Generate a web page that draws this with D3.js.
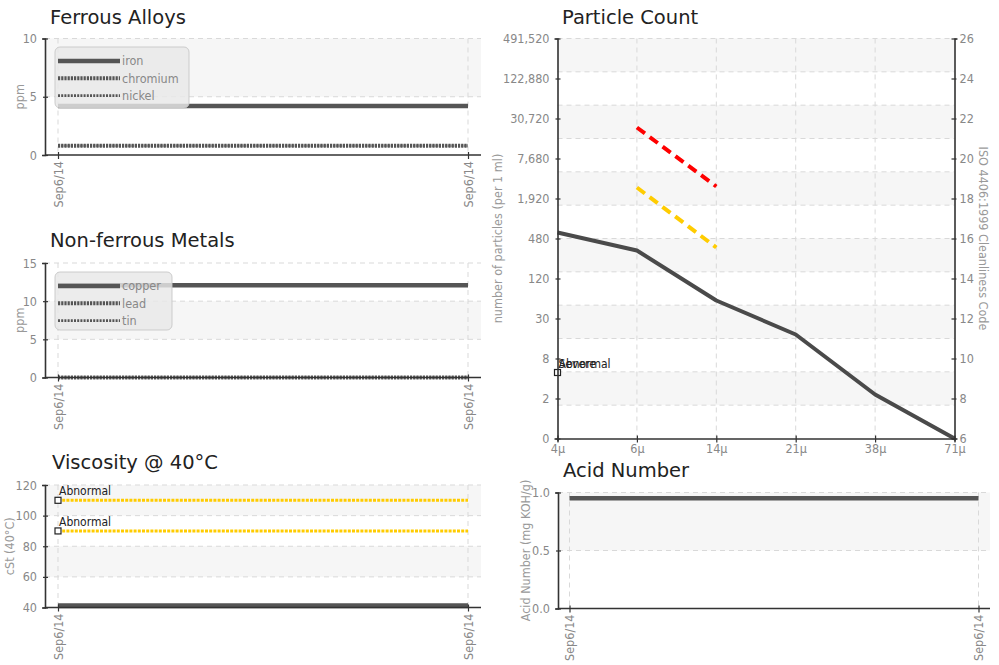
<!DOCTYPE html>
<html><head><meta charset="utf-8">
<script src="https://cdn.jsdelivr.net/npm/d3@7"></script>
<style>
body{margin:0;background:#fff;}
svg text{font-family:'DejaVu Sans Condensed','DejaVu Sans',sans-serif;font-stretch:condensed;}
.title{font-family:'DejaVu Sans',sans-serif !important;font-stretch:normal !important;font-size:19.5px;fill:#222;}
.tick text{fill:#888;font-size:12.5px;}
.axis path.domain{stroke:#333;stroke-width:1.6;}
.axis .tick line{stroke:#333;stroke-width:1.2;}
.ylab{fill:#999;font-size:12.5px;}
.leg{fill:#888;font-size:12.5px;}
.mark{fill:#222;font-size:12px;}
</style></head><body><svg id="c" width="999" height="665"></svg>
<script>
// ---------- data ----------
const dates = ["Sep6/14", "Sep6/14"];
const iron = [4.2, 4.2];
const chromium = [0.8, 0.8];
const nickel = [0.8, 0.8];
const copper = [12.1, 12.1];
const lead = [0, 0];
const tin = [0, 0];
const viscosity = [41.2, 41.2];
const viscAbnormalHigh = [110, 110];
const viscAbnormalLow = [90, 90];
const acidNumber = [0.95, 0.95];

const sizes = ["4μ", "6μ", "14μ", "21μ", "38μ", "71μ"];
const isoCode = [16.3, 15.4, 12.9, 11.2, 8.2, 6.0];
const limitSizes = ["6μ", "14μ"];
const severeLimit = [21.55, 18.6];
const abnormalLimit = [18.55, 15.55];
const markerCode = 9.3;
const isoTicks = [6, 8, 10, 12, 14, 16, 18, 20, 22, 24, 26];
const countLabels = ["0", "2", "8", "30", "120", "480", "1,920", "7,680", "30,720", "122,880", "491,520"];

const ferrousTicks = [0, 5, 10];
const nonFerrousTicks = [0, 5, 10, 15];
const viscTicks = [40, 60, 80, 100, 120];
const acidTicks = [0.0, 0.5, 1.0];

// ---------- drawing ----------
const svg = d3.select("#c");
const DARK = "#555", BAND = "#f6f6f6", GRID = "#d9d9d9";
const styles = {
  solid: {w: 4.5, dash: null},
  dotThick: {w: 4, dash: "2.2,1"},
  dotThin: {w: 2.6, dash: "2,1.2"}
};

function tsPanel(c) {
  const g = svg.append("g");
  const x = d3.scalePoint().domain(d3.range(dates.length)).range([c.left + c.pad, c.right - c.pad]);
  const y = d3.scaleLinear().domain([c.ticks[0], c.ticks[c.ticks.length - 1]]).range([c.bottom, c.top]);
  // bands
  for (let i = 0; i < c.ticks.length - 1; i++) {
    if (i % 2 === 1) g.append("rect").attr("x", c.left).attr("width", c.right - c.left)
      .attr("y", y(c.ticks[i + 1])).attr("height", y(c.ticks[i]) - y(c.ticks[i + 1])).attr("fill", BAND);
  }
  // grid
  c.ticks.slice(1).forEach(t => g.append("line").attr("x1", c.left).attr("x2", c.right)
    .attr("y1", y(t)).attr("y2", y(t)).attr("stroke", GRID).attr("stroke-dasharray", "5,4"));
  x.domain().forEach(d => g.append("line").attr("x1", x(d)).attr("x2", x(d))
    .attr("y1", c.top).attr("y2", c.bottom).attr("stroke", GRID).attr("stroke-dasharray", "5,4"));
  // series
  const line = d3.line().x((d, i) => x(i)).y(d => y(d));
  c.series.forEach(s => {
    const st = styles[s.style];
    g.append("path").attr("d", line(s.values)).attr("fill", "none")
      .attr("stroke", s.color || DARK).attr("stroke-width", s.width || st.w)
      .attr("stroke-dasharray", s.dash || st.dash);
  });
  // limit lines
  (c.limits || []).forEach(l => {
    g.append("path").attr("d", line(l.values)).attr("fill", "none")
      .attr("stroke", "#ffcc00").attr("stroke-width", 3).attr("stroke-dasharray", "3,1.2");
  });
  (c.limits || []).forEach(l => {
    g.append("rect").attr("x", x(0) - 3).attr("y", y(l.values[0]) - 3).attr("width", 6).attr("height", 6)
      .attr("fill", "#fff").attr("stroke", "#222").attr("stroke-width", 1.2);
    g.append("text").attr("class", "mark").attr("x", x(0) + 1).attr("y", y(l.values[0]) - 5).text(l.label);
  });
  // axes
  const ya = g.append("g").attr("class", "axis").attr("transform", `translate(${c.left},0)`)
    .call(d3.axisLeft(y).tickValues(c.ticks).tickSize(3).tickPadding(5).tickFormat(c.fmt || d3.format("d")));
  ya.selectAll(".tick line").attr("x1", -2).attr("x2", 3);
  const xa = g.append("g").attr("class", "axis").attr("transform", `translate(0,${c.bottom})`)
    .call(d3.axisBottom(x).tickSize(3).tickFormat(i => dates[i]));
  xa.select("path.domain").attr("d", `M${c.left},0H${c.right}`);
  xa.selectAll(".tick line").attr("y1", -3).attr("y2", 4);
  xa.selectAll(".tick text").attr("transform", "rotate(-90)").attr("x", -6).attr("y", 0)
    .attr("dy", "0.35em").style("text-anchor", "end");
  // title & y label
  g.append("text").attr("class", "title").attr("x", c.titleX).attr("y", c.titleY).text(c.title);
  g.append("text").attr("class", "ylab").attr("transform", `translate(${c.ylabX},${(c.top + c.bottom) / 2}) rotate(-90)`)
    .style("text-anchor", "middle").text(c.ylabel);
  // legend
  if (c.legend) {
    const L = c.legend;
    const lg = g.append("g").attr("transform", `translate(${L.x},${L.y})`);
    lg.append("rect").attr("width", L.w).attr("height", L.h).attr("rx", 5)
      .attr("fill", "rgba(232,232,232,0.82)").attr("stroke", "rgba(200,200,200,0.9)");
    c.series.forEach((s, i) => {
      const st = styles[s.style];
      const yy = 14 + i * 17.3;
      lg.append("line").attr("x1", 3).attr("x2", 65).attr("y1", yy).attr("y2", yy)
        .attr("stroke", DARK).attr("stroke-width", st.w).attr("stroke-dasharray", st.dash);
      lg.append("text").attr("class", "leg").attr("x", 67).attr("y", yy).attr("dy", "0.35em").text(s.name);
    });
  }
}

tsPanel({left: 45, right: 481, top: 38.5, bottom: 155, pad: 13, ticks: ferrousTicks,
  title: "Ferrous Alloys", titleX: 50, titleY: 24, ylabel: "ppm", ylabX: 24,
  series: [{name: "iron", values: iron, style: "solid"},
           {name: "chromium", values: chromium, style: "dotThick"},
           {name: "nickel", values: nickel, style: "dotThin"}],
  legend: {x: 55, y: 47, w: 134, h: 61}});

tsPanel({left: 45, right: 481, top: 263, bottom: 377.5, pad: 13, ticks: nonFerrousTicks,
  title: "Non-ferrous Metals", titleX: 50, titleY: 247, ylabel: "ppm", ylabX: 24,
  series: [{name: "copper", values: copper, style: "solid"},
           {name: "lead", values: lead, style: "dotThick"},
           {name: "tin", values: tin, style: "dotThin"}],
  legend: {x: 55, y: 272, w: 117, h: 58}});

tsPanel({left: 45, right: 481, top: 485, bottom: 607.5, pad: 13, ticks: viscTicks,
  title: "Viscosity @ 40°C", titleX: 52, titleY: 469, ylabel: "cSt (40°C)", ylabX: 14,
  series: [{name: "viscosity", values: viscosity, style: "solid", width: 5}],
  limits: [{values: viscAbnormalHigh, label: "Abnormal"}, {values: viscAbnormalLow, label: "Abnormal"}]});

tsPanel({left: 558, right: 990, top: 492.5, bottom: 608.5, pad: 11.5, ticks: acidTicks,
  title: "Acid Number", titleX: 563, titleY: 477, ylabel: "Acid Number (mg KOH/g)", ylabX: 530,
  fmt: d3.format(".1f"),
  series: [{name: "acid", values: acidNumber, style: "solid"}]});

// ---------- particle count ----------
(function () {
  const g = svg.append("g");
  const L = 557.5, R = 954.5, T = 38.5, B = 438.5;
  const x = d3.scalePoint().domain(sizes).range([L, R]);
  const y = d3.scaleLinear().domain([isoTicks[0], isoTicks[isoTicks.length - 1]]).range([B, T]);
  const nGrid = 12;
  const span = isoTicks[isoTicks.length - 1] - isoTicks[0];
  const gridVals = d3.range(nGrid + 1).map(i => isoTicks[isoTicks.length - 1] - i * span / nGrid);
  for (let i = 0; i < nGrid; i++) {
    if (i % 2 === 0) g.append("rect").attr("x", L).attr("width", R - L).attr("y", y(gridVals[i]))
      .attr("height", y(gridVals[i + 1]) - y(gridVals[i])).attr("fill", BAND);
  }
  gridVals.slice(0, nGrid).forEach(v => g.append("line").attr("x1", L).attr("x2", R)
    .attr("y1", y(v)).attr("y2", y(v)).attr("stroke", GRID).attr("stroke-dasharray", "5,4"));
  sizes.slice(1, -1).forEach(s => g.append("line").attr("x1", x(s)).attr("x2", x(s))
    .attr("y1", T).attr("y2", B).attr("stroke", GRID).attr("stroke-dasharray", "5,4"));

  const line = d3.line().x(d => x(d[0])).y(d => y(d[1]));
  g.append("path").attr("d", line(sizes.map((s, i) => [s, isoCode[i]]))).attr("fill", "none")
    .attr("stroke", "#4a4a4a").attr("stroke-width", 4).attr("stroke-linejoin", "round");
  g.append("path").attr("d", line(limitSizes.map((s, i) => [s, severeLimit[i]]))).attr("fill", "none")
    .attr("stroke", "#ff0000").attr("stroke-width", 4).attr("stroke-dasharray", "10,6");
  g.append("path").attr("d", line(limitSizes.map((s, i) => [s, abnormalLimit[i]]))).attr("fill", "none")
    .attr("stroke", "#ffcc00").attr("stroke-width", 4).attr("stroke-dasharray", "10,6");

  g.append("rect").attr("x", x(sizes[0]) - 3).attr("y", y(markerCode) - 3).attr("width", 6).attr("height", 6)
    .attr("fill", "#fff").attr("stroke", "#222").attr("stroke-width", 1.2);
  ["Severe", "Abnormal"].forEach(t => g.append("text").attr("class", "mark")
    .attr("x", x(sizes[0]) + 1).attr("y", y(markerCode) - 5).text(t));

  const ya = g.append("g").attr("class", "axis").attr("transform", `translate(${L},0)`)
    .call(d3.axisLeft(y).tickValues(isoTicks).tickSize(3).tickPadding(5).tickFormat((d, i) => countLabels[i]));
  ya.selectAll(".tick line").attr("x1", -2).attr("x2", 3);
  const yr = g.append("g").attr("class", "axis").attr("transform", `translate(${R},0)`)
    .call(d3.axisRight(y).tickValues(isoTicks).tickSize(3).tickPadding(2).tickFormat(d3.format("d")));
  yr.selectAll(".tick line").attr("x1", -3).attr("x2", 2);
  const xa = g.append("g").attr("class", "axis").attr("transform", `translate(0,${B})`)
    .call(d3.axisBottom(x).tickSize(3).tickPadding(3));
  xa.selectAll(".tick line").attr("y1", -3).attr("y2", 4);

  g.append("text").attr("class", "title").attr("x", 562).attr("y", 24).text("Particle Count");
  g.append("text").attr("class", "ylab").attr("transform", `translate(502,${(T + B) / 2}) rotate(-90)`)
    .style("text-anchor", "middle").text("number of particles (per 1 ml)");
  g.append("text").attr("class", "ylab").attr("transform", `translate(979,${(T + B) / 2}) rotate(90)`)
    .style("text-anchor", "middle").text("ISO 4406:1999 Cleanliness Code");
})();
</script></body></html>
